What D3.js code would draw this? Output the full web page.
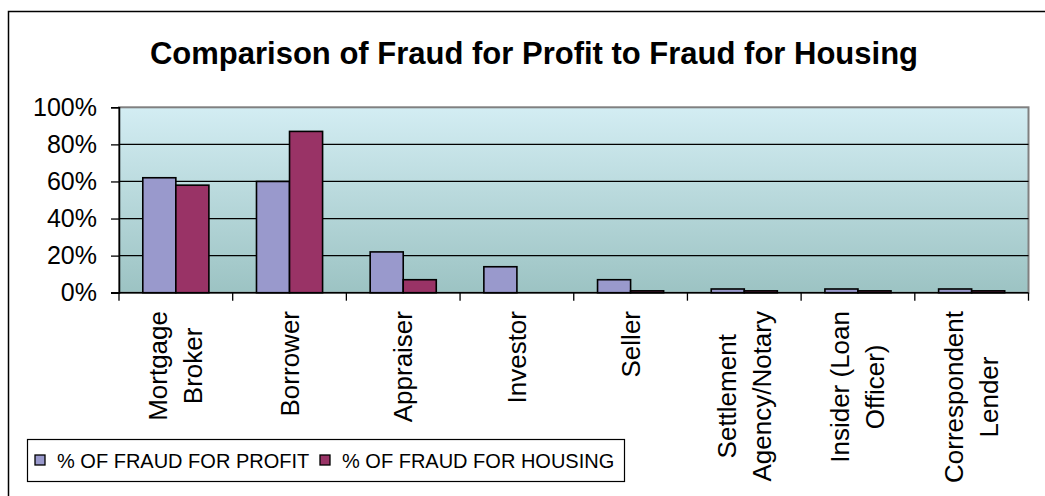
<!DOCTYPE html>
<html>
<head>
<meta charset="utf-8">
<script src="https://cdn.jsdelivr.net/npm/d3@7"></script>
<style>
  body { margin: 0; background: #fff; }
  svg { display: block; font-family: "Liberation Sans", Arial, sans-serif; }
</style>
</head>
<body>
<script>
// chart data
var categories = ['Mortgage\nBroker', 'Borrower', 'Appraiser', 'Investor', 'Seller',
  'Settlement\nAgency/Notary', 'Insider (Loan\nOfficer)', 'Correspondent\nLender'];
var seriesNames = ['% OF FRAUD FOR PROFIT', '% OF FRAUD FOR HOUSING'];
var profitValues = [0.62, 0.60, 0.22, 0.14, 0.07, 0.02, 0.02, 0.02];
var housingValues = [0.58, 0.87, 0.07, 0.00, 0.01, 0.01, 0.01, 0.01];
var yTicks = [0, 0.2, 0.4, 0.6, 0.8, 1.0];
var colors = ['#9999cc', '#993366'];

var width = 1045, height = 496;
var plot = {left: 119, right: 1028.5, top: 107.3, bottom: 292.7};

var svg = d3.select('body').append('svg')
    .attr('width', width)
    .attr('height', height);

// outer chart border (runs off the right/bottom of the picture)
svg.append('rect')
    .attr('x', 8.5).attr('y', 11.5)
    .attr('width', 1100).attr('height', 600)
    .attr('fill', '#fff')
    .attr('stroke', '#000')
    .attr('stroke-width', 1.5);

svg.append('text')
    .attr('x', 534)
    .attr('y', 63.5)
    .attr('text-anchor', 'middle')
    .attr('font-size', 31)
    .attr('font-weight', 'bold')
    .text('Comparison of Fraud for Profit to Fraud for Housing');

var defs = svg.append('defs');
var grad = defs.append('linearGradient')
    .attr('id', 'bg').attr('x1', 0).attr('y1', 0).attr('x2', 0).attr('y2', 1);
grad.append('stop').attr('offset', '0%').attr('stop-color', '#d3edf3');
grad.append('stop').attr('offset', '100%').attr('stop-color', '#9cc3c3');

var x0 = d3.scaleBand()
    .domain(categories)
    .range([plot.left, plot.right]);

var x1 = d3.scaleBand()
    .domain(seriesNames)
    .range([0, x0.bandwidth()])
    .paddingOuter(0.72);

var y = d3.scaleLinear()
    .domain([0, 1])
    .range([plot.bottom, plot.top]);

svg.append('rect')
    .attr('x', plot.left).attr('y', plot.top)
    .attr('width', plot.right - plot.left)
    .attr('height', plot.bottom - plot.top)
    .attr('fill', 'url(#bg)')
    .attr('stroke', '#808080')
    .attr('stroke-width', 2);

// gridlines
svg.append('g')
    .selectAll('line')
    .data(yTicks.slice(1, -1))
    .enter().append('line')
    .attr('x1', plot.left).attr('x2', plot.right)
    .attr('y1', function (d) { return y(d); })
    .attr('y2', function (d) { return y(d); })
    .attr('stroke', '#000')
    .attr('stroke-width', 1.3);

// bars
var rows = categories.map(function (c, i) {
  return {cat: c, values: [profitValues[i], housingValues[i]]};
});

var group = svg.append('g')
    .selectAll('g')
    .data(rows)
    .enter().append('g')
    .attr('transform', function (d) { return 'translate(' + x0(d.cat) + ',0)'; });

group.selectAll('rect')
    .data(function (d) {
      return d.values.map(function (v, j) { return {name: seriesNames[j], value: v, j: j}; });
    })
    .enter().filter(function (d) { return d.value > 0; })
    .append('rect')
    .attr('x', function (d) { return x1(d.name); })
    .attr('y', function (d) { return y(d.value); })
    .attr('width', x1.bandwidth())
    .attr('height', function (d) { return y(0) - y(d.value); })
    .attr('fill', function (d) { return colors[d.j]; })
    .attr('stroke', '#000')
    .attr('stroke-width', 1.6);

// y axis
var yAxis = svg.append('g')
    .attr('transform', 'translate(' + plot.left + ',0)')
    .call(d3.axisLeft(y).tickValues(yTicks).tickSize(8).tickPadding(14)
      .tickFormat(d3.format('.0%')));
yAxis.select('.domain').attr('stroke', '#000').attr('stroke-width', 1.5);
yAxis.selectAll('.tick line').attr('stroke', '#000').attr('stroke-width', 1.3);
yAxis.selectAll('text')
    .attr('font-size', 25)
    .attr('font-family', '"Liberation Sans", Arial, sans-serif')
    .attr('fill', '#000');

// x axis line and category boundary ticks
svg.append('line')
    .attr('x1', plot.left - 8).attr('x2', plot.right)
    .attr('y1', plot.bottom).attr('y2', plot.bottom)
    .attr('stroke', '#000').attr('stroke-width', 1.5);

var bounds = categories.map(function (c) { return x0(c); }).concat([plot.right]);
svg.append('g')
    .selectAll('line')
    .data(bounds)
    .enter().append('line')
    .attr('x1', function (d) { return d; })
    .attr('x2', function (d) { return d; })
    .attr('y1', plot.bottom).attr('y2', plot.bottom + 8)
    .attr('stroke', '#000').attr('stroke-width', 1.3);

// rotated category labels, lines centred on each other
var labelTop = 311, lineH = 35;
var labels = svg.append('g')
    .selectAll('g')
    .data(categories)
    .enter().append('g')
    .attr('font-size', 26);

labels.each(function (c) {
  var g = d3.select(this);
  var lines = c.split('\n');
  var cx = x0(c) + x0.bandwidth() / 2;
  var texts = lines.map(function (l) {
    return g.append('text').attr('text-anchor', 'middle').text(l);
  });
  var maxLen = d3.max(texts, function (t) { return t.node().getComputedTextLength(); });
  texts.forEach(function (t, i) {
    var bx = cx + (i - (lines.length - 1) / 2) * lineH + 9;
    var by = labelTop + maxLen / 2;
    t.attr('transform', 'translate(' + bx + ',' + by + ') rotate(-90)');
  });
});

// legend
var legend = svg.append('g');
legend.append('rect')
    .attr('x', 27.5).attr('y', 439.5)
    .attr('width', 597).attr('height', 42)
    .attr('fill', '#fff')
    .attr('stroke', '#000')
    .attr('stroke-width', 1.2);

var legendX = [35, 320];
seriesNames.forEach(function (name, i) {
  legend.append('rect')
      .attr('x', legendX[i]).attr('y', 455)
      .attr('width', 10).attr('height', 10)
      .attr('fill', colors[i])
      .attr('stroke', '#000')
      .attr('stroke-width', 1.3);
  legend.append('text')
      .attr('x', legendX[i] + 22)
      .attr('y', 467.5)
      .attr('font-size', 20)
      .text(name);
});
</script>
</body>
</html>
